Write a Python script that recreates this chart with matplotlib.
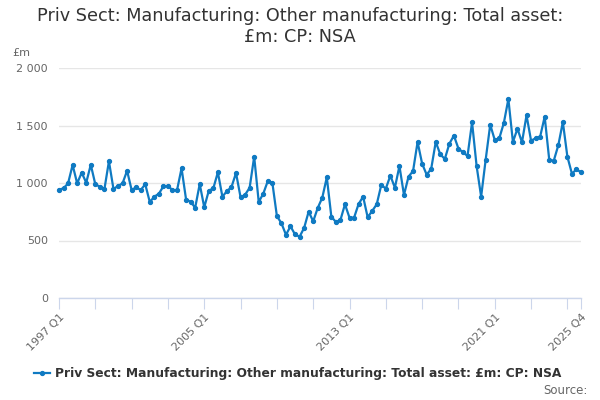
import numpy as np
import matplotlib
matplotlib.use('Agg')
import matplotlib.pyplot as plt
from matplotlib.ticker import FuncFormatter

LINE  = '#0f7ac2'
GRID  = '#e6e6e6'
AXIS  = '#ccd6eb'
TEXT  = '#333333'
MUTED = '#666666'

TITLE = 'Priv Sect: Manufacturing: Other manufacturing: Total asset:\n£m: CP: NSA'
SERIES = 'Priv Sect: Manufacturing: Other manufacturing: Total asset: £m: CP: NSA'

# quarterly values, 1997 Q1 .. 2025 Q4
values = [
    942, 954, 997, 1157, 997, 1090, 1003, 1159, 989, 968, 945, 1189,
    948, 974, 997, 1107, 939, 963, 939, 989, 835, 881, 907, 971,
    974, 939, 937, 1128, 855, 837, 785, 991, 789, 933, 954, 1093,
    881, 930, 965, 1087, 876, 898, 959, 1229, 835, 907, 1017, 1003,
    713, 650, 550, 623, 553, 533, 609, 751, 667, 783, 872, 1049,
    707, 661, 678, 815, 698, 698, 817, 881, 702, 757, 815, 983,
    951, 1064, 959, 1148, 896, 1055, 1104, 1357, 1168, 1072, 1124, 1357,
    1249, 1209, 1342, 1412, 1299, 1267, 1235, 1528, 1148, 881, 1203, 1507,
    1374, 1389, 1522, 1730, 1357, 1472, 1354, 1589, 1368, 1389, 1403, 1577,
    1203, 1194, 1328, 1530, 1229, 1081, 1119, 1093,
]
quarters = [f'{y} Q{q}' for y in range(1997, 2026) for q in range(1, 5)]
label_quarters = ['1997 Q1', '2005 Q1', '2013 Q1', '2021 Q1', '2025 Q4']
y_ticks = [0, 500, 1000, 1500, 2000]

x = np.arange(len(values))

fig = plt.figure(figsize=(6, 4), dpi=100)
ax = fig.add_axes([59 / 600, 102 / 400, 522 / 600, 230 / 400])

ax.plot(x, values, color=LINE, linewidth=1.6, marker='o', markersize=2.8,
        zorder=3, clip_on=False)

ax.set_xlim(0, len(values) - 1)
ax.set_ylim(0, 2000)
ax.set_yticks(y_ticks)
ax.yaxis.set_major_formatter(FuncFormatter(lambda v, p: f'{int(v):,}'.replace(',', ' ')))
ax.grid(axis='y', color=GRID, linewidth=1)
ax.set_axisbelow(True)

# ticks every 8 quarters, plus the last one; labels only on some
tick_pos = list(range(0, len(values), 8)) + [len(values) - 1]
ax.set_xticks(tick_pos)
ax.set_xticklabels([quarters[i] if quarters[i] in label_quarters else '' for i in tick_pos],
                   rotation=45, ha='right', rotation_mode='anchor')

for s in ['top', 'right', 'left']:
    ax.spines[s].set_visible(False)
ax.spines['bottom'].set_color(AXIS)
ax.spines['bottom'].set_linewidth(1)
ax.tick_params(axis='x', length=8, color=AXIS, labelsize=8, labelcolor=MUTED, pad=2)
ax.tick_params(axis='y', length=0, labelsize=8, labelcolor=MUTED, pad=8)

fig.text(0.5, 1 - 7 / 400, TITLE, ha='center', va='top', fontsize=12.7, color=TEXT,
         linespacing=1.2)
fig.text(12 / 600, 1 - 53 / 400, '£m', ha='left', va='center', fontsize=8, color=MUTED)

# legend
fig.lines.append(plt.Line2D([34 / 600, 50 / 600], [1 - 373 / 400] * 2, color=LINE,
                            linewidth=1.6, transform=fig.transFigure))
fig.lines.append(plt.Line2D([42 / 600], [1 - 373 / 400], color=LINE, marker='o',
                            markersize=2.8, transform=fig.transFigure))
fig.text(55 / 600, 1 - 373 / 400, SERIES, ha='left', va='center', fontsize=8.8,
         fontweight='bold', color=TEXT)
fig.text(588 / 600, 1 - 391 / 400, 'Source:', ha='right', va='center', fontsize=8.5,
         color=MUTED)

fig.savefig('out.png', dpi=100)
plt.close(fig)
